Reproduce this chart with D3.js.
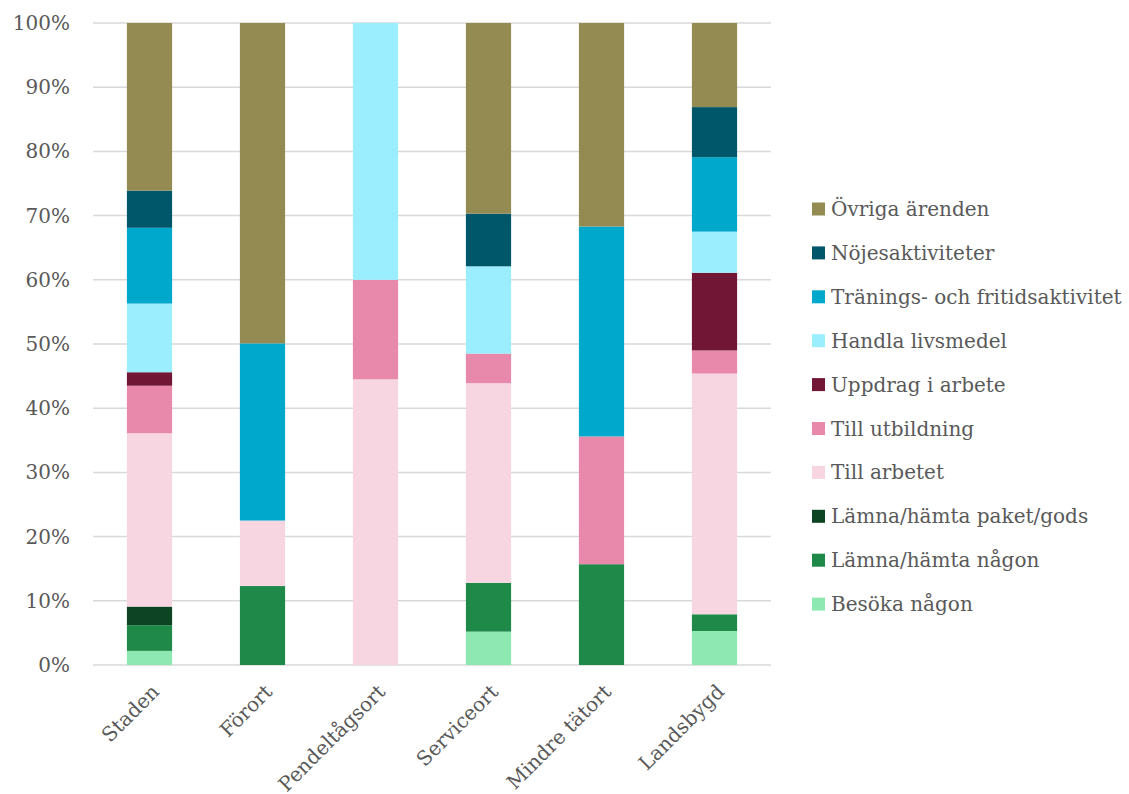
<!DOCTYPE html>
<html>
<head>
<meta charset="utf-8">
<script src="https://cdn.jsdelivr.net/npm/d3@7"></script>
<style>
  body { margin: 0; background: #fff; }
  text { font-family: "DejaVu Serif", serif; fill: #595959; }
</style>
</head>
<body>
<div id="chart"></div>
<script>
// places (x axis)
var places = ["Staden", "Förort", "Pendeltågsort", "Serviceort", "Mindre tätort", "Landsbygd"];

// series, bottom to top, share in % per place
var series = ["Besöka någon", "Lämna/hämta någon", "Lämna/hämta paket/gods", "Till arbetet",
  "Till utbildning", "Uppdrag i arbete", "Handla livsmedel", "Tränings- och fritidsaktivitet",
  "Nöjesaktiviteter", "Övriga ärenden"];
var colors = ["#8ee8b1", "#1e8949", "#0d4524", "#f7d6e1", "#e888aa", "#721636",
  "#9beefe", "#00a8cc", "#00576a", "#938b51"];

var besoka    = [2.2, 0,    0,    5.2,  0,    5.3];
var lamnaNagn = [4.0, 12.3, 0,    7.6,  15.7, 2.6];
var paket     = [2.9, 0,    0,    0,    0,    0];
var arbetet   = [27.0, 10.2, 44.5, 31.1, 0,   37.5];
var utbild    = [7.4, 0,    15.5, 4.6,  19.9, 3.6];
var uppdrag   = [2.1, 0,    0,    0,    0,    12.1];
var handla    = [10.7, 0,   40.0, 13.6, 0,    6.4];
var traning   = [11.8, 27.6, 0,   0,    32.7, 11.6];
var noje      = [5.8, 0,    0,    8.2,  0,    7.8];
var ovriga    = [26.1, 49.9, 0,   29.7, 31.7, 13.1];

var yTicks = [0, 10, 20, 30, 40, 50, 60, 70, 80, 90, 100];

var values = [besoka, lamnaNagn, paket, arbetet, utbild, uppdrag, handla, traning, noje, ovriga];

var width = 1129, height = 794;
var margin = {top: 23, left: 93, right: 358, bottom: 129};
var fontSize = "20px";

var svg = d3.select("#chart").append("svg")
  .attr("width", width)
  .attr("height", height);

var x = d3.scaleBand().domain(places)
  .range([margin.left, width - margin.right])
  .paddingInner(0.6).paddingOuter(0.3);
var y = d3.scaleLinear().domain([0, 100]).range([height - margin.bottom, margin.top]);

// table for stack
var table = places.map(function(p, i) {
  var row = {place: p};
  series.forEach(function(s, j) { row[s] = values[j][i]; });
  return row;
});
var stack = d3.stack().keys(series)(table);

// gridlines
svg.append("g").selectAll("line")
  .data(yTicks)
  .enter().append("line")
  .attr("x1", margin.left).attr("x2", width - margin.right)
  .attr("y1", function(d) { return y(d); }).attr("y2", function(d) { return y(d); })
  .attr("stroke", "#d9d9d9").attr("stroke-width", 1.5);

// y labels
svg.append("g").selectAll("text")
  .data(yTicks)
  .enter().append("text")
  .attr("x", 70)
  .attr("y", function(d) { return y(d); })
  .attr("dy", "0.35em")
  .attr("text-anchor", "end")
  .style("font-size", fontSize)
  .text(function(d) { return d + "%"; });

// bars
svg.append("g").selectAll("g")
  .data(stack)
  .enter().append("g")
  .attr("fill", function(d, i) { return colors[i]; })
  .selectAll("rect")
  .data(function(d) { return d; })
  .enter().append("rect")
  .attr("x", function(d) { return x(d.data.place); })
  .attr("width", x.bandwidth())
  .attr("y", function(d) { return y(d[1]); })
  .attr("height", function(d) { return y(d[0]) - y(d[1]); });

// x labels
svg.append("g").selectAll("text")
  .data(places)
  .enter().append("text")
  .attr("transform", function(d) {
    return "translate(" + (x(d) + x.bandwidth() / 2 + 6) + "," + 688 + ") rotate(-45)";
  })
  .attr("text-anchor", "end")
  .attr("dy", "0.35em")
  .style("font-size", fontSize)
  .text(function(d) { return d; });

// legend, top item = last series
var legend = svg.append("g").selectAll("g")
  .data(series.slice().reverse())
  .enter().append("g")
  .attr("transform", function(d, i) { return "translate(812," + (209 + i * 43.9) + ")"; });

legend.append("rect")
  .attr("x", 0).attr("y", -6.5)
  .attr("width", 13).attr("height", 13)
  .attr("fill", function(d) { return colors[series.indexOf(d)]; });

legend.append("text")
  .attr("x", 19)
  .attr("dy", "0.35em")
  .style("font-size", fontSize)
  .text(function(d) { return d; });
</script>
</body>
</html>
